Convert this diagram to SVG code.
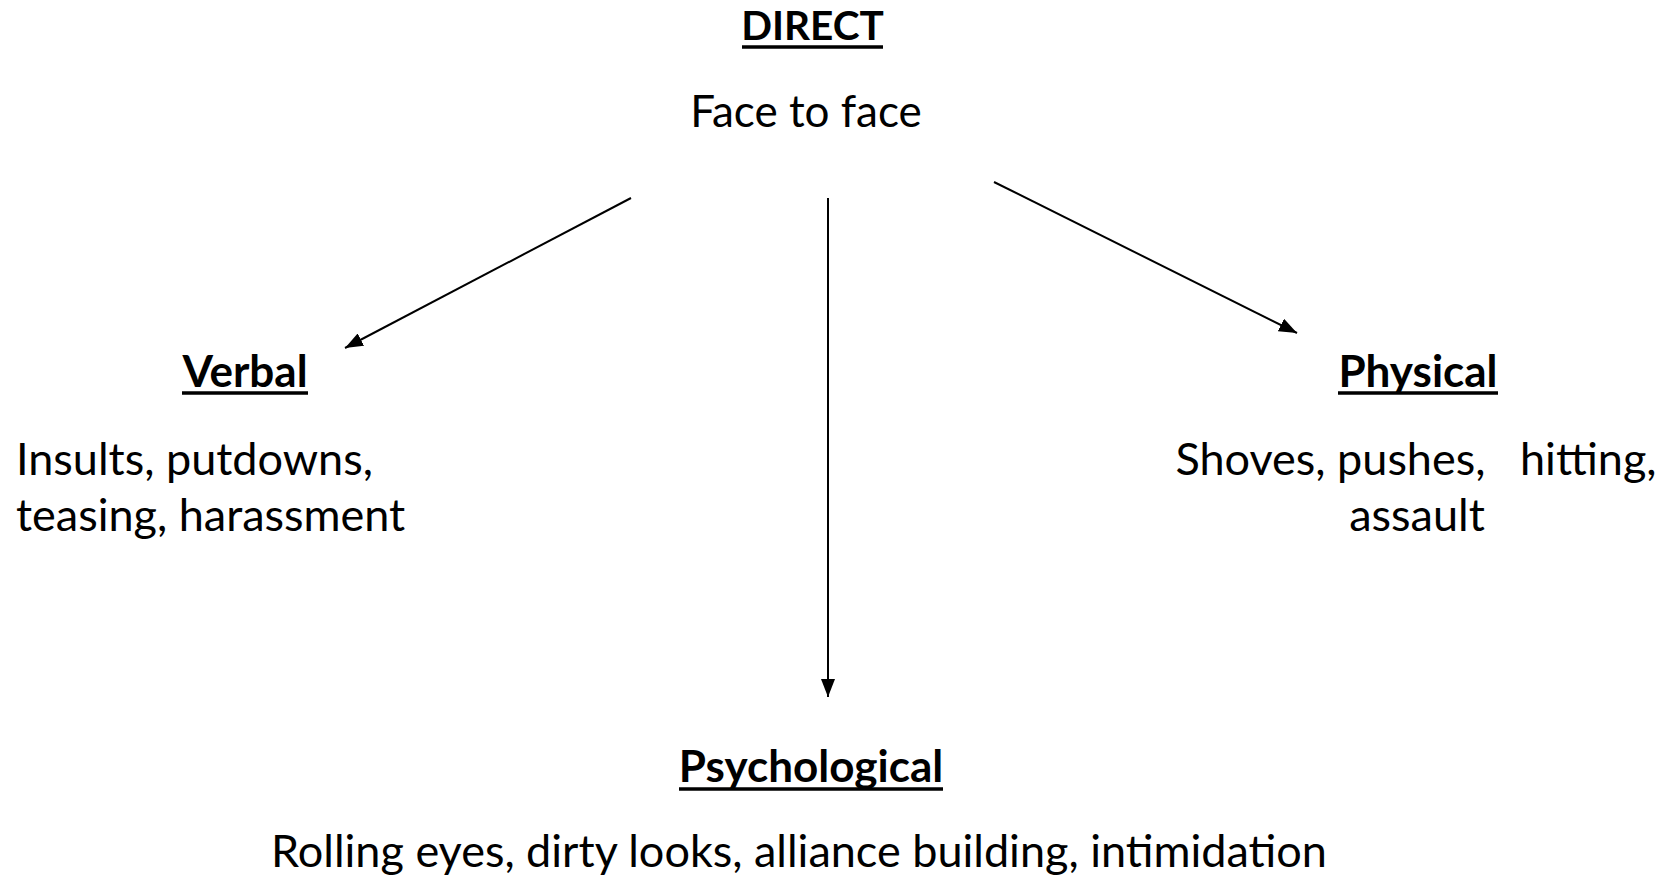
<svg xmlns="http://www.w3.org/2000/svg" width="1669" height="877" viewBox="0 0 1669 877">
<style>
text{font-family:Lato,"Noto Sans","Liberation Sans",sans-serif;fill:#000}
.h{font-weight:bold;font-size:44px}
.b{font-size:45px}
.ul{stroke:#000;stroke-width:3.5}
.c{stroke:#000;stroke-width:2;fill:none}
</style>
<defs>
<marker id="ah2" viewBox="0 0 10 10" refX="10" refY="5" markerWidth="18" markerHeight="14" markerUnits="userSpaceOnUse" orient="auto" preserveAspectRatio="none">
<path d="M0,0 L10,5 L0,10 Z" fill="#000"/>
</marker>
</defs>
<rect width="1669" height="877" fill="#fff"/>
<g id="direct">
<text class="h" x="812.5" y="40" text-anchor="middle" style="font-size:40.5px">DIRECT</text>
<line class="ul" x1="742" y1="47" x2="883" y2="47"/>
<text class="b" x="806" y="127" text-anchor="middle" style="font-size:44px">Face to face</text>
</g>
<g id="verbal">
<text class="h" x="245" y="387" text-anchor="middle">Verbal</text>
<line class="ul" x1="182" y1="393" x2="308" y2="393"/>
<text class="b" x="16" y="475">Insults, putdowns,</text>
<text class="b" x="16" y="531">teasing, harassment</text>
</g>
<g id="physical">
<text class="h" x="1418" y="387" text-anchor="middle">Physical</text>
<line class="ul" x1="1338" y1="393" x2="1498" y2="393"/>
<text class="b" x="1416" y="475" text-anchor="middle" xml:space="preserve">Shoves, pushes,   hitting,</text>
<text class="b" x="1417" y="531" text-anchor="middle">assault</text>
</g>
<g id="psychological">
<text class="h" x="811" y="782" text-anchor="middle">Psychological</text>
<line class="ul" x1="679" y1="789" x2="943" y2="789"/>
<text class="b" x="799" y="867" text-anchor="middle">Rolling eyes, dirty looks, alliance building, intimidation</text>
</g>
<g id="connectors">
<line class="c" x1="631" y1="198" x2="345" y2="348" marker-end="url(#ah2)"/>
<line class="c" x1="828" y1="198" x2="828" y2="697" marker-end="url(#ah2)"/>
<line class="c" x1="994" y1="182" x2="1297" y2="333" marker-end="url(#ah2)"/>
</g>
</svg>
